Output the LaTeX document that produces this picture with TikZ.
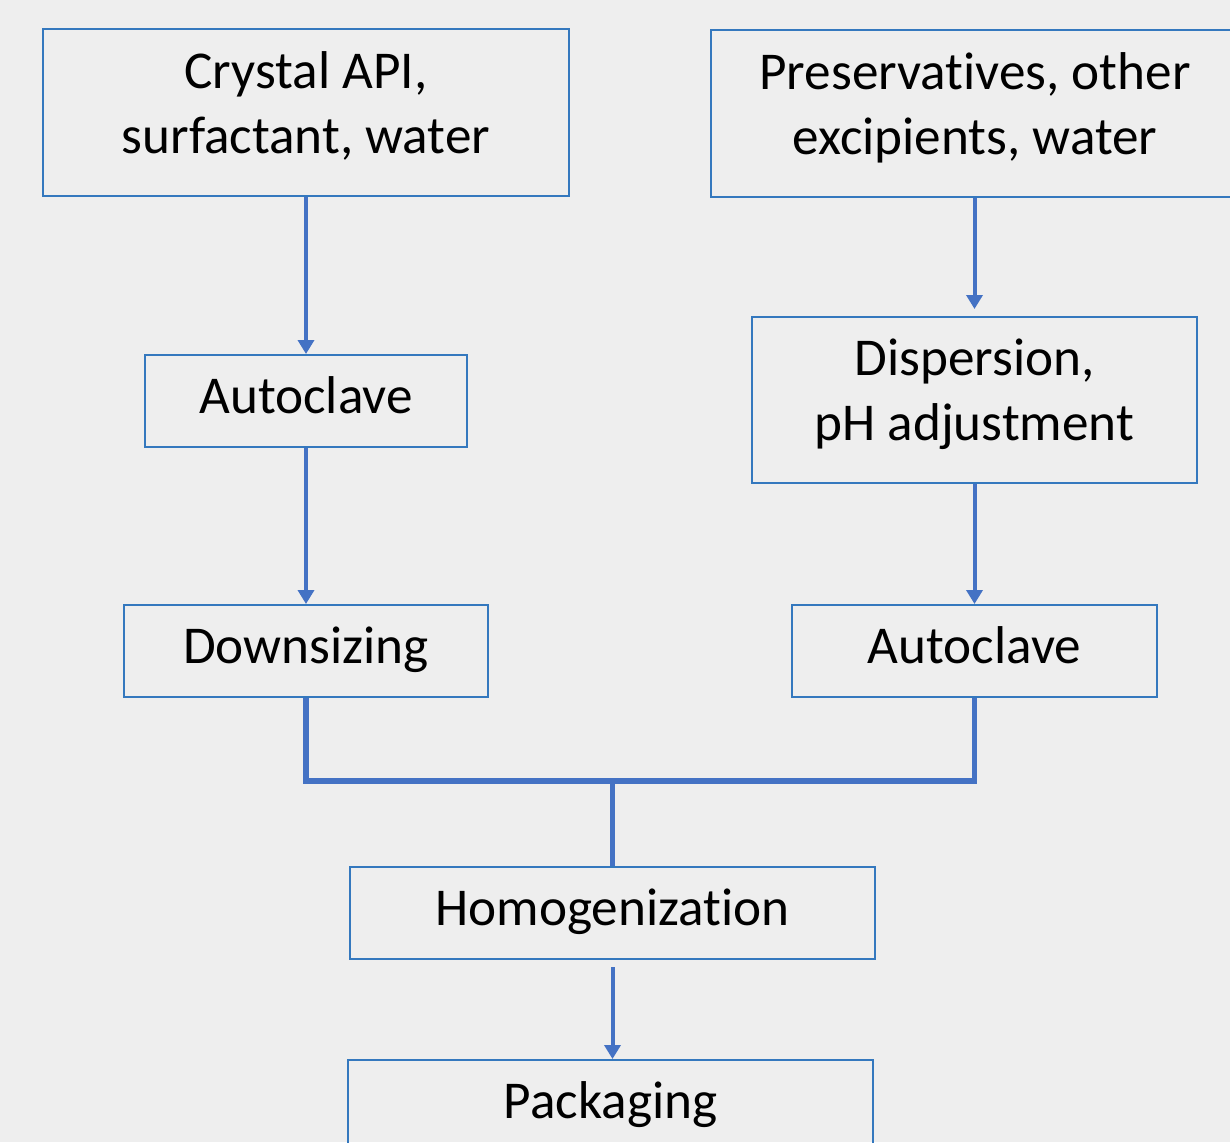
\documentclass[tikz,border=0pt]{standalone}
\usepackage{fontspec}
\setmainfont{Carlito}[Ligatures=NoCommon]
\usetikzlibrary{arrows.meta,positioning}
\definecolor{boxblue}{HTML}{3478BE}
\definecolor{linkblue}{HTML}{4472C4}
\definecolor{bggray}{HTML}{EEEEEE}
% fixed line heights, so text sits as in the original slide
\newcommand\linestrut{\rule[-10pt]{0pt}{28pt}}
\tikzset{
	stepbox/.style={draw=boxblue,line width=1pt,inner sep=0pt,align=center,
		font=\fontsize{26.6}{32.5}\selectfont},
	oneline/.style={stepbox,text height=20pt,text depth=8pt},
	link/.style={draw=linkblue,line width=2pt,-{Triangle[length=7pt,width=8pt]}},
	bus/.style={draw=linkblue,line width=2.7pt}
}
\begin{document}
\begin{tikzpicture}[x=0.5pt,y=-0.5pt]
		\fill[bggray] (0,0) rectangle (1230,1142);
		\useasboundingbox (0,0) rectangle (1230,1142);
		\clip (0,0) rectangle (1230,1142);

		\draw
			node [stepbox,minimum width=263pt,minimum height=83.5pt] (crystal) at (306,112.5)  {\linestrut Crystal API,\\surfactant, water\linestrut}
			node [stepbox,minimum width=264pt,minimum height=83.5pt] (pres)    at (975,113.5)  {\linestrut Preservatives, other\\excipients, water\linestrut}
			node [oneline,minimum width=161pt,minimum height=46pt]   (autoL)   at (306,401)    {Autoclave}
			node [stepbox,minimum width=222.5pt,minimum height=83pt] (disp)    at (974.5,400)  {\linestrut Dispersion,\\pH adjustment\linestrut}
			node [oneline,minimum width=182pt,minimum height=46pt]   (down)    at (306,651)    {Downsizing}
			node [oneline,minimum width=182.5pt,minimum height=46pt] (autoR)   at (974.5,651)  {Autoclave}
			node [oneline,minimum width=262.5pt,minimum height=46pt] (homog)   at (612.5,913)  {Homogenization}
			node [oneline,minimum width=262.5pt,minimum height=46pt] (pack)    at (610.5,1106) {Packaging}
		;
		\coordinate (merge) at (612.5,781);

		\draw [link] (crystal) -- (autoL);
		\draw [link] (autoL) -- (down);
		\draw [link,shorten >=3.5pt] (disp.north |- pres.south) -- (disp.north);
		\draw [link] (disp) -- (autoR);
		\draw [bus] (down.south) |- (merge) -| (autoR.south);
		\draw [bus] (merge) -- (homog.north);
		\draw [link,shorten <=3.5pt] (homog.south) -- (homog.south |- pack.north);
\end{tikzpicture}
\end{document}
